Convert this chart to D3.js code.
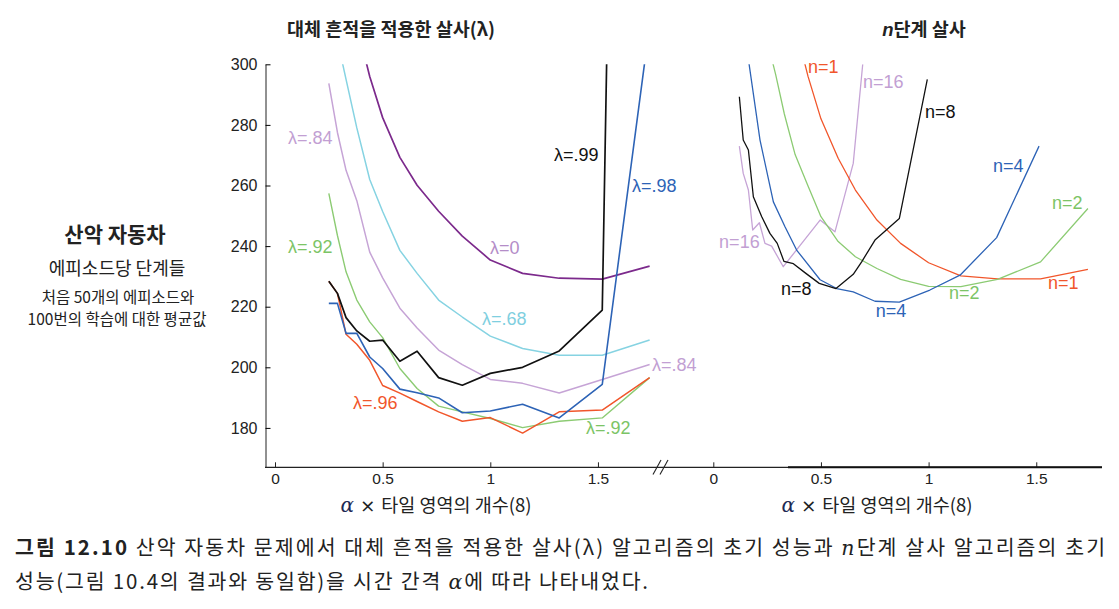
<!DOCTYPE html>
<html>
<head>
<meta charset="utf-8">
<script src="https://cdn.jsdelivr.net/npm/d3@7"></script>
<style>
  body { margin: 0; background: #fff; }
  svg { display: block; }
  .tick text { font-family: "Liberation Sans", Arial, sans-serif; fill: #222; }
  .lbl { font-family: "Liberation Sans", Arial, sans-serif; font-size: 18px; }
  .kr { font-family: "Noto Sans CJK KR", sans-serif; fill: #222; }
</style>
</head>
<body>
<svg id="chart" width="1119" height="609"></svg>
<script>
// alpha x number of tilings (8), left panel grid
var alphaL = [0.25, 0.29, 0.33, 0.38, 0.44, 0.5, 0.58, 0.66, 0.76, 0.87, 1.0, 1.15, 1.32, 1.52, 1.74];

// steps per episode, Sarsa(lambda)
var lam0  = [null, null, null, 313, 296, 282.4, 269.3, 260.1, 251.5, 243.3, 235.4, 231, 229.4, 229.1, 233.4];
var lam68 = [null, 308, 295, 279, 262, 251.4, 238.6, 231, 222.2, 216.6, 210.3, 206.2, 204, 204, 209];
var lam84 = [293.7, 277.5, 265, 255, 238, 229.5, 219.5, 213, 205.7, 200.9, 196, 194.7, 191.5, 196, 200.9];
var lam92 = [257.4, 243.5, 231.5, 222.2, 215, 209.8, 199.6, 193, 187.2, 185.3, 183.1, 180.1, 182.2, 183.3, 196.6];
var lam96 = [228.4, 224.4, 210.9, 207.6, 202.3, 194, 191.5, 188.7, 185.3, 182.2, 183.4, 178.3, 185.3, 185.9, 196.6];
var lam98 = [221.1, 221.1, 211.2, 211.2, 203.4, 199.6, 192.8, 191.6, 189.9, 185, 185.6, 187.8, 183.3, 194.4, 313];
var lam99 = [228.4, 224.4, 216.4, 212, 208.6, 209, 202, 205.3, 196.6, 194.1, 198, 200, 205.4, 218.9, 1100];

// n-step Sarsa, each with its own alpha values
var n1X  = [0.38, 0.44, 0.5, 0.58, 0.66, 0.76, 0.87, 1.0, 1.15, 1.32, 1.52, 1.74];
var n1Y  = [313, 296, 282, 269, 258.5, 248.6, 240.9, 234.5, 230.2, 229.2, 229.2, 232.3];
var n2X  = [0.25, 0.29, 0.33, 0.38, 0.44, 0.5, 0.58, 0.66, 0.76, 0.87, 1.0, 1.15, 1.32, 1.52, 1.74];
var n2Y  = [308, 296.5, 283.6, 270.2, 259.8, 249.7, 241.5, 236.5, 232.6, 229, 226.7, 226.6, 229, 234.8, 252.4];
var n4X  = [0.14, 0.217, 0.279, 0.333, 0.387, 0.496, 0.573, 0.65, 0.751, 0.864, 1.006, 1.146, 1.316, 1.513];
var n4Y  = [313, 275, 254.6, 246.4, 238.7, 228.9, 226, 224.9, 221.8, 221.5, 225.5, 230.4, 242.8, 273];
var n8X  = [0.121, 0.139, 0.163, 0.186, 0.225, 0.263, 0.297, 0.328, 0.372, 0.43, 0.492, 0.57, 0.65, 0.689, 0.751, 0.864, 0.994];
var n8Y  = [289.3, 275, 271.7, 256.3, 249.7, 244.2, 240.9, 235, 234.2, 231, 227.7, 226, 230.7, 234.8, 242, 249.1, 295];
var n16X = [0.121, 0.139, 0.163, 0.183, 0.214, 0.24, 0.271, 0.325, 0.496, 0.565, 0.65, 0.694];
var n16Y = [273, 264, 258.5, 245.3, 247.7, 240.9, 240, 233.2, 248.6, 244.7, 267.3, 300];

var yTicks = [180, 200, 220, 240, 260, 280, 300];
var xTicks = [0, 0.5, 1, 1.5];
var xTickLabels = ["0", "0.5", "1", "1.5"];

var red = "#f1562b", blue = "#2d63b6", green = "#8ccb73", lilac = "#c6a4d6",
    cyan = "#86d3e2", purple = "#7c2a8c", black = "#111";

var svg = d3.select("#chart");

var y = d3.scaleLinear().domain([167, 300]).range([467.3, 64.3]);
var xL = d3.scaleLinear().domain([0, 1]).range([275, 490.3]);
var xR = d3.scaleLinear().domain([0, 1]).range([713.3, 928.6]);

var defs = svg.append("defs");
defs.append("clipPath").attr("id", "clipL").append("rect")
  .attr("x", 266).attr("y", y(300)).attr("width", 400).attr("height", y(167) - y(300));
defs.append("clipPath").attr("id", "clipR").append("rect")
  .attr("x", 700).attr("y", y(300)).attr("width", 410).attr("height", y(167) - y(300));

// titles
svg.append("text").attr("class", "kr").attr("x", 391).attr("y", 36)
  .attr("text-anchor", "middle").attr("font-size", 18.5).attr("font-weight", "bold")
  .text("대체 흔적을 적용한 살사(λ)");
var t2 = svg.append("text").attr("class", "kr").attr("x", 924).attr("y", 36)
  .attr("text-anchor", "middle").attr("font-size", 18.5).attr("font-weight", "bold");
t2.append("tspan").attr("font-style", "italic").attr("font-family", "Liberation Sans").text("n");
t2.append("tspan").text("단계 살사");

// y label block
svg.append("text").attr("class", "kr").attr("x", 115).attr("y", 242)
  .attr("text-anchor", "middle").attr("font-size", 21).attr("font-weight", "bold").text("산악 자동차");
svg.append("text").attr("class", "kr").attr("x", 117).attr("y", 275)
  .attr("text-anchor", "middle").attr("font-size", 18).text("에피소드당 단계들");
svg.append("text").attr("class", "kr").attr("x", 118).attr("y", 302.5)
  .attr("text-anchor", "middle").attr("font-size", 15.5).text("처음 50개의 에피소드와");
svg.append("text").attr("class", "kr").attr("x", 117).attr("y", 325)
  .attr("text-anchor", "middle").attr("font-size", 15.5).text("100번의 학습에 대한 평균값");

// axes
var yAxis = d3.axisLeft(y).tickValues(yTicks).tickSizeInner(-5).tickSizeOuter(0).tickPadding(8);
var gy = svg.append("g").attr("transform", "translate(265.5,0)").call(yAxis);
gy.selectAll("text").attr("font-size", 16);
gy.select(".domain").attr("stroke", "#222");

function bottomAxis(sc) {
  var ax = d3.axisBottom(sc).tickValues(xTicks).tickSize(-5).tickPadding(6)
    .tickFormat(function(d, i) { return xTickLabels[i]; });
  var g = svg.append("g").attr("transform", "translate(0,467.3)").call(ax);
  g.select(".domain").remove();
  g.selectAll("text").attr("font-size", 15.5);
  g.selectAll("line").attr("stroke", "#222");
}
bottomAxis(xL);
bottomAxis(xR);

svg.append("line").attr("x1", 265).attr("x2", 1102).attr("y1", 467.3).attr("y2", 467.3)
  .attr("stroke", "#222").attr("stroke-width", 1.2);
svg.append("line").attr("x1", 788).attr("x2", 1102).attr("y1", 467.3).attr("y2", 467.3)
  .attr("stroke", "#111").attr("stroke-width", 2);

// axis break
[0, 7].forEach(function(dx) {
  svg.append("line").attr("x1", 653 + dx).attr("y1", 474.5).attr("x2", 661 + dx).attr("y2", 460)
    .attr("stroke", "#222").attr("stroke-width", 1.1);
});

// x titles
function xTitle(cx) {
  var t = svg.append("text").attr("class", "kr").attr("x", cx).attr("y", 512)
    .attr("text-anchor", "middle").attr("font-size", 18.5);
  t.append("tspan").attr("font-family", "DejaVu Serif").attr("font-style", "italic")
    .attr("fill", "#1d2a55").attr("font-size", 20).text("α");
  t.append("tspan").attr("font-family", "DejaVu Sans").text(" × ");
  t.append("tspan").text("타일 영역의 개수(8)");
}
xTitle(436);
xTitle(877);

// left lines
var lineL = d3.line().defined(function(d) { return d[1] != null; })
  .x(function(d) { return xL(d[0]); }).y(function(d) { return y(d[1]); });
var gL = svg.append("g").attr("clip-path", "url(#clipL)");
var leftSeries = [
  [lam0, purple, 1.7], [lam68, cyan, 1.5], [lam84, lilac, 1.5], [lam92, green, 1.4],
  [lam96, red, 1.5], [lam98, blue, 1.6], [lam99, black, 1.7]
];
leftSeries.forEach(function(s) {
  gL.append("path").datum(alphaL.map(function(a, i) { return [a, s[0][i]]; }))
    .attr("d", lineL).attr("fill", "none").attr("stroke", s[1]).attr("stroke-width", s[2])
    .attr("stroke-linejoin", "round");
});

// right lines
var lineR = d3.line().x(function(d) { return xR(d[0]); }).y(function(d) { return y(d[1]); });
var gR = svg.append("g").attr("clip-path", "url(#clipR)");
var rightSeries = [
  [n16X, n16Y, lilac], [n1X, n1Y, red], [n2X, n2Y, green], [n4X, n4Y, blue], [n8X, n8Y, black]
];
rightSeries.forEach(function(s) {
  gR.append("path").datum(s[0].map(function(a, i) { return [a, s[1][i]]; }))
    .attr("d", lineR).attr("fill", "none").attr("stroke", s[2]).attr("stroke-width", 1.3)
    .attr("stroke-linejoin", "round");
});

// series labels, anchored in data units
var leftLabels = [
  ["λ=.84", 0.060, 273.7, "#c29fd3"], ["λ=.92", 0.060, 237.8, "#7cc466"],
  ["λ=0", 0.999, 237.4, "#b48dc8"], ["λ=.99", 1.296, 268.1, "#111"],
  ["λ=.98", 1.658, 258.0, "#2d63b6"], ["λ=.68", 0.961, 213.9, "#7fcfe0"],
  ["λ=.84", 1.751, 198.7, "#c29fd3"], ["λ=.96", 0.362, 186.3, "#f1562b"],
  ["λ=.92", 1.444, 177.9, "#7cc466"]
];
leftLabels.forEach(function(l) {
  svg.append("text").attr("class", "lbl").attr("x", xL(l[1])).attr("y", y(l[2]))
    .attr("fill", l[3]).text(l[0]);
});
var rightLabels = [
  ["n=1", 0.44, 297.1, "#f1562b"], ["n=16", 0.695, 292.2, "#c29fd3"],
  ["n=8", 0.983, 282.3, "#111"], ["n=4", 1.299, 264.3, "#2d63b6"],
  ["n=2", 1.573, 252.4, "#7cc466"], ["n=16", 0.027, 239.3, "#c29fd3"],
  ["n=8", 0.314, 224.0, "#111"], ["n=1", 1.554, 225.8, "#f1562b"],
  ["n=2", 1.095, 222.5, "#7cc466"], ["n=4", 0.755, 216.7, "#2d63b6"]
];
rightLabels.forEach(function(l) {
  svg.append("text").attr("class", "lbl").attr("x", xR(l[1])).attr("y", y(l[2]))
    .attr("fill", l[3]).text(l[0]);
});

// caption
var c1 = svg.append("text").attr("class", "kr").attr("x", 15).attr("y", 555)
  .attr("font-size", 20.5).attr("textLength", 1090).attr("lengthAdjust", "spacing");
c1.append("tspan").attr("font-weight", "bold").text("그림 12.10");
c1.append("tspan").text("  산악 자동차 문제에서 대체 흔적을 적용한 살사(λ) 알고리즘의 초기 성능과 ");
c1.append("tspan").attr("font-family", "DejaVu Serif").attr("font-style", "italic").text("n");
c1.append("tspan").text("단계 살사 알고리즘의 초기");
var c2 = svg.append("text").attr("class", "kr").attr("x", 15).attr("y", 589)
  .attr("font-size", 20.5).attr("textLength", 633).attr("lengthAdjust", "spacing");
c2.append("tspan").text("성능(그림 10.4의 결과와 동일함)을 시간 간격 ");
c2.append("tspan").attr("font-family", "DejaVu Serif").attr("font-style", "italic").text("α");
c2.append("tspan").text("에 따라 나타내었다.");
</script>
</body>
</html>
